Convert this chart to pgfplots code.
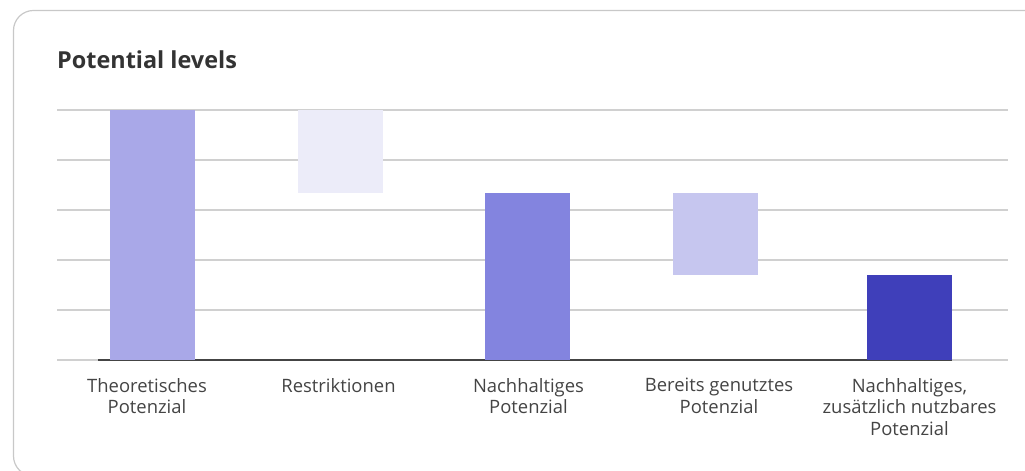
\documentclass[border=0pt]{standalone}
\usepackage{pgfplots}
\pgfplotsset{compat=1.18}
\usepackage{fontspec}
\setmainfont{Open Sans}

\definecolor{cardline}{HTML}{C8C8C8}
\definecolor{gridc}{HTML}{D0D0D0}
\definecolor{basec}{HTML}{444444}
\definecolor{txt}{HTML}{444444}
\definecolor{titlec}{HTML}{333333}
\definecolor{cA}{HTML}{A9A8E8}
\definecolor{cB}{HTML}{ECECF9}
\definecolor{cC}{HTML}{8384DF}
\definecolor{cD}{HTML}{C6C6EF}
\definecolor{cE}{HTML}{3F3FBA}

\begin{document}
\begin{tikzpicture}
\useasboundingbox (0bp,0bp) rectangle (1025bp,471bp);
\begin{scope}
\clip (0bp,0bp) rectangle (1025bp,471bp);
\draw[cardline, line width=1.2bp, rounded corners=20bp] (13.5bp,-5bp) rectangle (1060bp,460.5bp);
\end{scope}
\node[anchor=base west, inner sep=0pt, text=titlec, font=\fontsize{23.5}{28}\selectfont\bfseries] at (57bp,402.7bp) {Potential levels};

\begin{axis}[
    at={(57bp,111bp)}, anchor=south west,
    scale only axis,
    width=951bp, height=250bp,
    xmin=57, xmax=1008,
    ymin=0, ymax=100,
    ybar stacked,
    bar width=85bp,
    axis line style={draw=none},
    ytick={0,20,40,60,80,100},
    yticklabels={},
    ymajorgrids,
    major grid style={gridc, line width=1.2bp},
    xtick={147,338.5,528.5,719,909.5},
    xticklabels={Theoretisches\\Potenzial, Restriktionen, Nachhaltiges\\Potenzial, Bereits genutztes\\Potenzial, {Nachhaltiges,\\zusätzlich nutzbares\\Potenzial}},
    major tick length=0pt,
    xticklabel style={align=center, text=txt, font=\fontsize{18.5}{21.5}\selectfont, inner sep=0pt, yshift=-18bp},
    clip=false,
]
% invisible base of the floating bars
\addplot[draw=none, fill=none] coordinates {(152.5,0) (340.5,66.6) (527.5,0) (715.5,33.8) (909.5,0)};
\addplot[draw=none, fill=cA] coordinates {(152.5,100) (340.5,0) (527.5,0) (715.5,0) (909.5,0)};
\addplot[draw=none, fill=cB] coordinates {(152.5,0) (340.5,33.4) (527.5,0) (715.5,0) (909.5,0)};
\addplot[draw=none, fill=cC] coordinates {(152.5,0) (340.5,0) (527.5,66.6) (715.5,0) (909.5,0)};
\addplot[draw=none, fill=cD] coordinates {(152.5,0) (340.5,0) (527.5,0) (715.5,32.8) (909.5,0)};
\addplot[draw=none, fill=cE] coordinates {(152.5,0) (340.5,0) (527.5,0) (715.5,0) (909.5,33.8)};
% baseline
\addplot[sharp plot, stack plots=false, basec, line width=2bp, forget plot] coordinates {(98,0) (952,0)};
\end{axis}
\end{tikzpicture}
\end{document}
